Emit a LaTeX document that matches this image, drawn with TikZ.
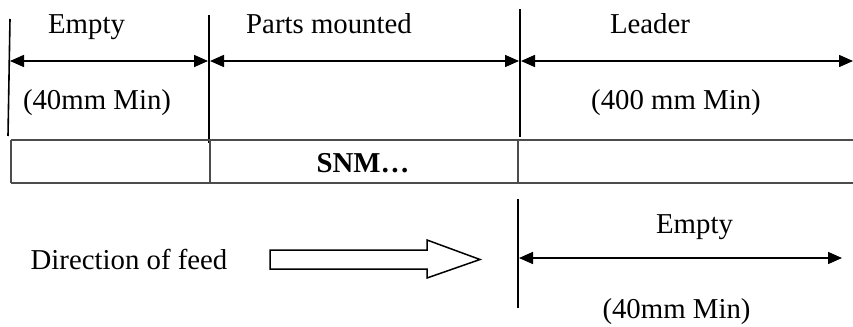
\documentclass[tikz,border=0pt]{standalone}
\usepackage{fontspec}
\setmainfont{Liberation Serif}
\usetikzlibrary{arrows.meta}
\begin{document}
\begin{tikzpicture}[x=0.5pt,y=-0.5pt,
  lbl/.style={inner sep=0pt,anchor=base,font=\fontsize{14.4}{16}\selectfont},
  bar/.style={line width=1.25pt},
  thinbar/.style={line width=0.8pt},
  dim/.style={line width=0.75pt,{Triangle[length=7pt,width=6pt]}-{Triangle[length=7pt,width=6pt]}},
  tbl/.style={line width=0.6pt,draw=black!70}]
\useasboundingbox (0,0) rectangle (853,327);
% vertical markers
\coordinate (v1t) at (10,19); \coordinate (v1b) at (8,136);
\coordinate (v2t) at (209,15); \coordinate (v2b) at (209,143);
\coordinate (v3t) at (520,9); \coordinate (v3b) at (520,137);
\draw[thinbar] (v1t) -- (v1b);
\draw[bar] (v2t) -- (v2b);
\draw[bar] (v3t) -- (v3b);
% dimension arrows
\coordinate (a0) at (10,61); \coordinate (a1) at (208,61);
\coordinate (a2) at (210,61); \coordinate (a3) at (519,61);
\coordinate (a4) at (521,61); \coordinate (a5) at (853,61);
\draw[dim] (a0) -- (a1);
\draw[dim] (a2) -- (a3);
\draw[dim] (a4) -- (a5);
% labels
\node[lbl] (e1) at (86.5,33) {Empty};
\node[lbl] (pm) at (329,33) {Parts mounted};
\node[lbl] (ld) at (650,33) {Leader};
\node[lbl] (m1) at (97,109) {(40mm Min)};
\node[lbl] (m2) at (676,109) {(400 mm Min)};
% table
\coordinate (t0) at (11,140); \coordinate (t1) at (853,183);
\draw[tbl] (11,140) -- (853,140);
\draw[tbl] (11,183) -- (853,183);
\draw[tbl] (11,140) -- (11,183);
\draw[tbl] (210,140) -- (210,183);
\draw[tbl] (518,140) -- (518,183);
\node[lbl,font=\fontsize{14.4}{16}\selectfont\bfseries] (snm) at (363,172) {SNM…};
% direction of feed
\node[lbl] (dir) at (129,269) {Direction of feed};
\draw[line width=0.75pt,line join=miter] (270,250) -- (427,250) -- (427,240) -- (480,259.5)
  -- (427,278) -- (427,269) -- (270,269) -- cycle;
% bottom empty
\coordinate (b1t) at (518,199); \coordinate (b1b) at (518,308);
\draw[bar] (b1t) -- (b1b);
\coordinate (c0) at (519,258); \coordinate (c1) at (842,258);
\draw[dim] (c0) -- (c1);
\node[lbl] (e2) at (694.5,233) {Empty};
\node[lbl] (m3) at (676.5,318) {(40mm Min)};
\end{tikzpicture}
\end{document}
